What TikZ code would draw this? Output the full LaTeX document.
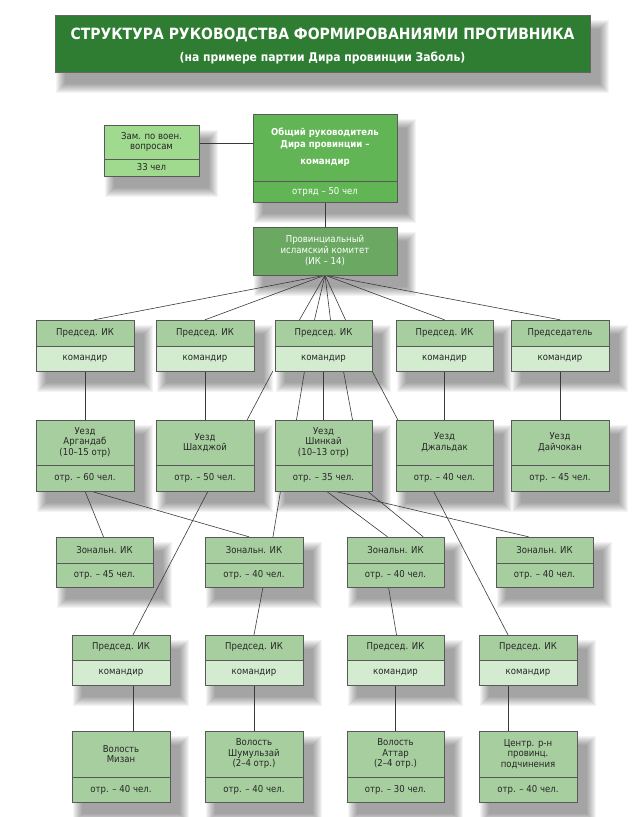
\documentclass[tikz,border=0pt]{standalone}
\usepackage{fontspec}
\setmainfont{DejaVu Sans Condensed}
\usetikzlibrary{backgrounds}
\definecolor{titleg}{HTML}{2E7D32}
\definecolor{topg}{HTML}{62B555}
\definecolor{zamg}{HTML}{A0DA8E}
\definecolor{provg}{HTML}{6BA862}
\definecolor{midg}{HTML}{A7CE9F}
\definecolor{lightg}{HTML}{D3ECCF}
\definecolor{lineg}{HTML}{3A3A3A}
\tikzset{
  txt/.style={align=center,inner sep=0pt,font=\fontsize{9.5}{10.5}\selectfont,text=black!85},
  wtxt/.style={align=center,inner sep=0pt,font=\fontsize{9.5}{11}\selectfont,text=white},
  btxt/.style={align=center,inner sep=0pt,font=\bfseries\fontsize{9.5}{12}\selectfont,text=white},
  boxline/.style={draw=black!65,line width=0.8pt},
  conn/.style={draw=lineg,line width=0.6pt},
}
\def\setpr{\def\ca{midg}\def\cb{lightg}\def\ta{txt}\def\tb{txt}}
\def\setmd{\def\ca{midg}\def\cb{midg}\def\ta{txt}\def\tb{txt}}
\def\settop{\def\ca{topg}\def\cb{topg}\def\ta{btxt}\def\tb{wtxt}}
\def\setzam{\def\ca{zamg}\def\cb{zamg}\def\ta{txt}\def\tb{txt}}
\newcommand\shad[4]{%
  \begin{pgfonlayer}{background}
  \foreach \s in {1,...,10}{\fill[black,opacity=0.045] (#1+\s,#2+4+\s) rectangle (#3+20-\s,#4+22-\s);}
  \end{pgfonlayer}}
\newcommand\bx[9]{%
  \csname set#7\endcsname
  \shad{#2}{#3}{#4}{#6}
  \fill[\ca] (#2,#3) rectangle (#4,#5);
  \fill[\cb] (#2,#5) rectangle (#4,#6);
  \draw[boxline] (#2,#3) rectangle (#4,#6);
  \draw[boxline] (#2,#5) -- (#4,#5);
  \node[\ta] at ({(#2+#4)/2},{(#3+#5)/2}) {#8};
  \node[\tb] at ({(#2+#4)/2},{(#5+#6)/2}) {#9};
  \node[inner sep=0pt,minimum width={#4-#2},minimum height={#6-#3}] (#1) at ({(#2+#4)/2},{(#3+#6)/2}) {};
}
\begin{document}
\begin{tikzpicture}[x=1pt,y=-1pt]
\useasboundingbox (0,0) rectangle (638,817);
% title
\shad{55}{15}{590}{72}
\fill[titleg] (55,15) rectangle (590,72);
\draw[black!60,line width=0.8pt] (55,15) rectangle (590,72);
\node[inner sep=0pt,minimum width=535,minimum height=57] (title) at (322.5,43.5) {};
\node[text=white,font=\bfseries\fontsize{15.5}{17}\selectfont,inner sep=0pt] at (322.5,35) {СТРУКТУРА РУКОВОДСТВА ФОРМИРОВАНИЯМИ ПРОТИВНИКА};
\node[text=white,font=\bfseries\fontsize{12}{14}\selectfont,inner sep=0pt] at (322.5,58) {(на примере партии Дира провинции Заболь)};
% top
\bx{zam}{104}{125}{199}{159}{176}{zam}{Зам. по воен.\\вопросам}{33 чел}
\bx{top}{253}{114}{397}{181}{202}{top}{Общий руководитель\\Дира провинции –\\[5pt]командир}{отряд – 50 чел}
\shad{253}{227}{397}{275}
\fill[provg] (253,227) rectangle (397,275);
\draw[boxline] (253,227) rectangle (397,275);
\node[wtxt,inner sep=0pt,minimum width=144,minimum height=48] (prov) at (325,251) {Провинциальный\\исламский комитет\\(ИК – 14)};
% row 2
\bx{p1}{36}{320}{134}{346}{371}{pr}{Председ. ИК}{командир}
\bx{p2}{156}{320}{254}{346}{371}{pr}{Председ. ИК}{командир}
\bx{p3}{275}{320}{372}{346}{371}{pr}{Председ. ИК}{командир}
\bx{p4}{396}{320}{493}{346}{371}{pr}{Председ. ИК}{командир}
\bx{p5}{511}{320}{609}{346}{371}{pr}{Председатель}{командир}
% row 3
\bx{u1}{36}{420}{134}{465}{491}{md}{Уезд\\Аргандаб\\(10–15 отр)}{отр. – 60 чел.}
\bx{u2}{156}{420}{254}{465}{491}{md}{Уезд\\Шахджой}{отр. – 50 чел.}
\bx{u3}{275}{420}{372}{465}{491}{md}{Уезд\\Шинкай\\(10–13 отр)}{отр. – 35 чел.}
\bx{u4}{396}{420}{493}{465}{491}{md}{Уезд\\Джальдак}{отр. – 40 чел.}
\bx{u5}{511}{420}{609}{465}{491}{md}{Уезд\\Дайчокан}{отр. – 45 чел.}
% row 4
\bx{z1}{56}{537}{153}{563}{587}{md}{Зональн. ИК}{отр. – 45 чел.}
\bx{z2}{205}{537}{303}{563}{587}{md}{Зональн. ИК}{отр. – 40 чел.}
\bx{z3}{347}{537}{444}{563}{587}{md}{Зональн. ИК}{отр. – 40 чел.}
\bx{z4}{496}{537}{593}{563}{587}{md}{Зональн. ИК}{отр. – 40 чел.}
% row 5
\bx{q1}{72}{635}{170}{660}{685}{pr}{Председ. ИК}{командир}
\bx{q2}{205}{635}{303}{660}{685}{pr}{Председ. ИК}{командир}
\bx{q3}{347}{635}{444}{660}{685}{pr}{Председ. ИК}{командир}
\bx{q4}{479}{635}{577}{660}{685}{pr}{Председ. ИК}{командир}
% row 6
\bx{v1}{72}{731}{170}{777}{802}{md}{Волость\\Мизан}{отр. – 40 чел.}
\bx{v2}{205}{731}{303}{777}{802}{md}{Волость\\Шумульзай\\(2–4 отр.)}{отр. – 40 чел.}
\bx{v3}{347}{731}{444}{777}{802}{md}{Волость\\Аттар\\(2–4 отр.)}{отр. – 30 чел.}
\bx{v4}{479}{731}{577}{777}{802}{md}{Центр. р-н\\провинц.\\подчинения}{отр. – 40 чел.}
% connectors
\begin{scope}[on background layer]
\draw[conn] (zam.east |- 0,143) -- (top.west |- 0,143);
\draw[conn] (top.south) -- (prov.north);
\draw[conn] (prov.south) -- ([xshift=9pt]p1.north);
\draw[conn] (prov.south) -- (p2.north);
\draw[conn] (prov.south) -- ([xshift=-24pt]p3.north);
\draw[conn] (prov.south) -- ([xshift=-9pt]p3.north);
\draw[conn] (prov.south) -- ([xshift=7pt]p3.north);
\draw[conn] (prov.south) -- ([xshift=22pt]p3.north);
\draw[conn] (prov.south) -- (p4.north);
\draw[conn] (prov.south) -- (p5.north);
\draw[conn] (p1.south) -- (u1.north);
\draw[conn] (p2.south) -- (u2.north);
\draw[conn] (p4.south) -- (u4.north);
\draw[conn] (p5.south) -- (u5.north);
\draw[conn] ([xshift=-2pt]p3.south west) -- ([xshift=-7pt]u2.north east);
\draw[conn] ([xshift=-19pt]p3.south) -- ([xshift=-27pt]u3.north);
\draw[conn] (p3.south) -- (u3.north);
\draw[conn] ([xshift=20pt]p3.south) -- ([xshift=29pt]u3.north);
\draw[conn] (p3.south east) -- ([xshift=2pt]u4.north west);
\draw[conn] (u1.south) -- ([xshift=-1pt]z1.north);
\draw[conn] ([xshift=6pt]u1.south) -- ([xshift=-5pt]z2.north);
\draw[conn] ([xshift=3pt]u2.south) -- ([xshift=12pt]q1.north);
\draw[conn] ([xshift=-43pt]u3.south) -- ([xshift=19pt]z2.north);
\draw[conn] ([xshift=9pt]z2.south) -- ([xshift=0pt]q2.north);
\draw[conn] ([xshift=3pt]u3.south) -- ([xshift=-8pt]z3.north);
\draw[conn] ([xshift=44pt]u3.south) -- ([xshift=-21pt]z3.north east);
\draw[conn] ([xshift=-7pt]z3.south) -- ([xshift=1pt]q3.north);
\draw[conn] ([xshift=11pt]u3.south) -- ([xshift=-16pt]z4.north);
\draw[conn] ([xshift=-11pt]u4.south) -- ([xshift=-20pt]q4.north);
\draw[conn] ([xshift=12pt]q1.south) -- ([xshift=12pt]v1.north);
\draw[conn] (q2.south) -- (v2.north);
\draw[conn] (q3.south) -- (v3.north);
\draw[conn] ([xshift=-20pt]q4.south) -- ([xshift=-20pt]v4.north);
\end{scope}
\end{tikzpicture}
\end{document}
